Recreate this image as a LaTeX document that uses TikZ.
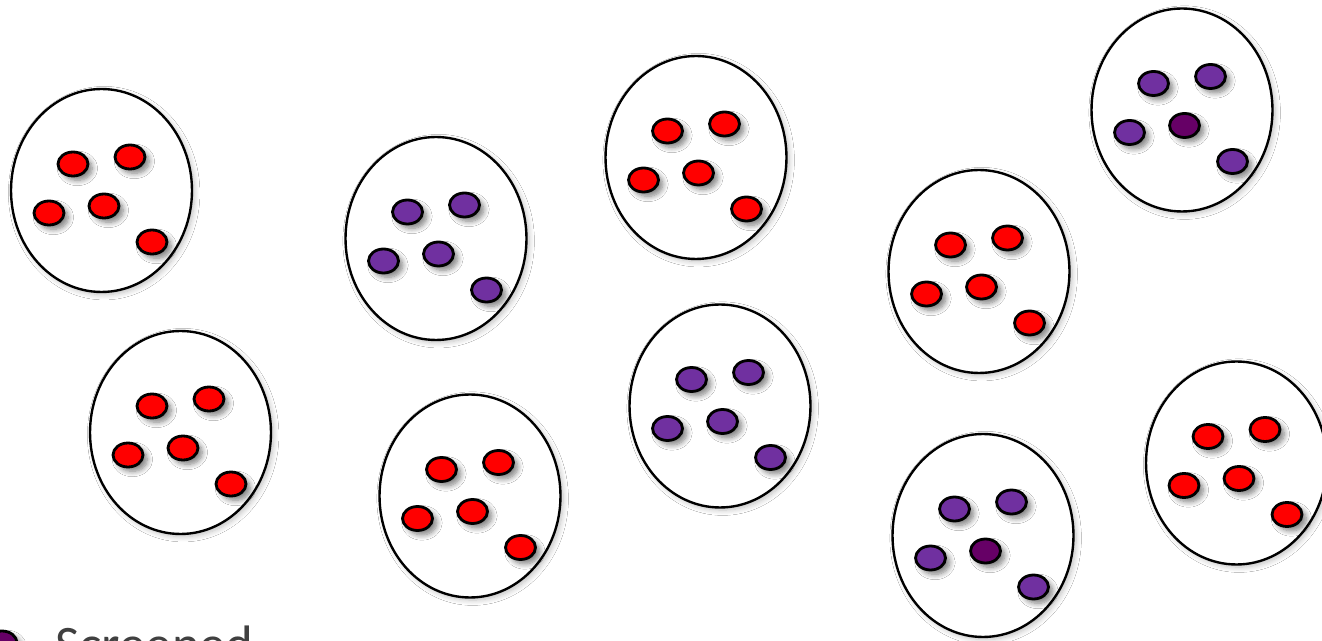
\documentclass[tikz,border=0pt]{standalone}
\usepackage{fontspec}
\setmainfont{Carlito}
\usetikzlibrary{shapes.geometric,shadows.blur}
\definecolor{cellred}{RGB}{255,0,0}
\definecolor{cellpurple}{RGB}{112,48,160}
\definecolor{celldark}{RGB}{102,0,102}
\definecolor{legendtext}{RGB}{64,64,64}

\begin{document}
\begin{tikzpicture}[x=0.02cm,y=-0.02cm,
  colony/.style={ellipse,draw=black,line width=1.35pt,fill=white,
                 minimum width=3.62cm,minimum height=4.06cm,inner sep=0pt,
                 blur shadow={shadow xshift=1.5pt,shadow yshift=-1.5pt,
                   shadow blur radius=3pt,shadow opacity=25,
                   shadow blur steps=8}},
  cell/.style={ellipse,draw=black,line width=1.6pt,inner sep=0pt,
               minimum width=0.6cm,minimum height=0.48cm,
               blur shadow={shadow xshift=2.5pt,shadow yshift=-2.5pt,
                 shadow blur radius=3pt,shadow opacity=50,
                 shadow blur steps=8}}]
\useasboundingbox (0,0) rectangle (1322,641);
\fill[white] (0,0) rectangle (1322,641);
% colonies: name / centre / colour of cells / colour of middle cell
\foreach \name/\cx/\cy/\col/\mid in {
    A/101.5/190.5/cellred/cellred,
    B/180.5/432.5/cellred/cellred,
    C/436/238.5/cellpurple/cellpurple,
    D/470/496/cellred/cellred,
    E/696/157.5/cellred/cellred,
    F/720/406/cellpurple/cellpurple,
    G/979/271.5/cellred/cellred,
    H/983/535.5/cellpurple/celldark,
    I/1182/110/cellpurple/celldark,
    J/1236.5/463/cellred/cellred}{
  \node[colony] (\name) at (\cx,\cy) {};
  \node[cell,fill=\col] (\name1) at (\cx-28.5,\cy-26.5) {};
  \node[cell,fill=\col] (\name2) at (\cx+28.5,\cy-33.5) {};
  \node[cell,fill=\col] (\name3) at (\cx-52.5,\cy+22.5) {};
  \node[cell,fill=\mid] (\name4) at (\cx+2.5,\cy+15.5) {};
  \node[cell,fill=\col] (\name5) at (\cx+50.5,\cy+51.5) {};
}
% legend
\node[cell,fill=celldark] (key) at (2,643) {};
\node[anchor=base west,inner sep=0pt,text=legendtext,
      font=\fontsize{30}{36}\selectfont] (keytext) at (55,663) {Screened};
\end{tikzpicture}
\end{document}
